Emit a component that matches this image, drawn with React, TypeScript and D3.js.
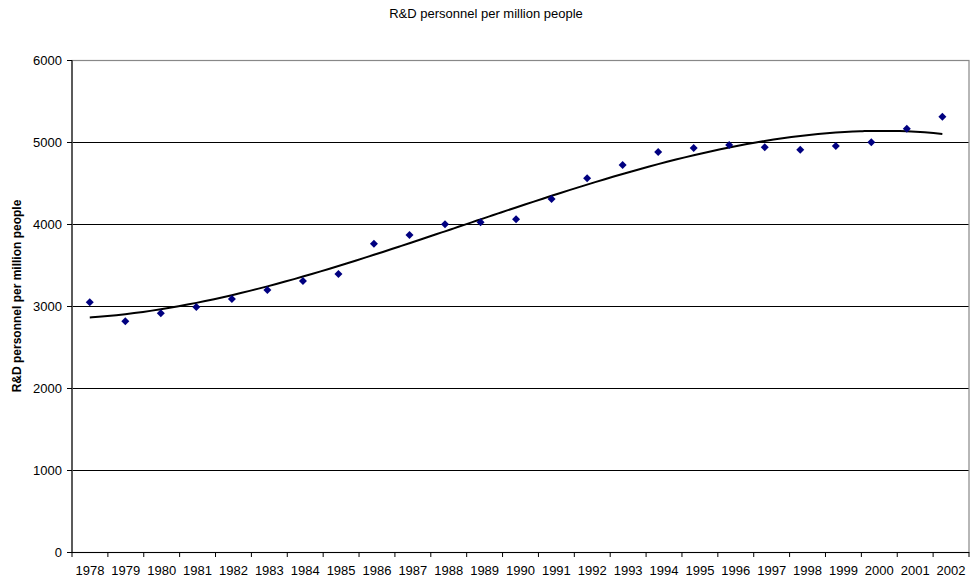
import * as d3 from "d3";
import React, { useRef, useEffect } from "react";

const width = 972;
const height = 586;
const margin = { top: 60, right: 3, bottom: 34, left: 72 };

// data
const years = [
  1978, 1979, 1980, 1981, 1982, 1983, 1984, 1985, 1986, 1987, 1988, 1989,
  1990, 1991, 1992, 1993, 1994, 1995, 1996, 1997, 1998, 1999, 2000, 2001, 2002,
];
const personnel = [
  3045, 2813, 2911, 2988, 3085, 3195, 3305, 3390, 3760, 3865, 3996, 4020,
  4057, 4305, 4557, 4720, 4878, 4927, 4963, 4935, 4906, 4951, 4996, 5162, 5308,
];
const yTicks = [0, 1000, 2000, 3000, 4000, 5000, 6000];

const title = "R&D personnel per million people";
const yLabel = "R&D personnel per million people";

// least squares polynomial (order 3) trendline, like the spreadsheet one
function polyFit(xs: number[], ys: number[], order: number) {
  const n = order + 1;
  const A: number[][] = [];
  for (let i = 0; i < n; i++) {
    A.push([]);
    for (let j = 0; j < n; j++) {
      A[i].push(d3.sum(xs, (x) => Math.pow(x, i + j)));
    }
    A[i].push(d3.sum(xs, (x, k) => Math.pow(x, i) * ys[k]));
  }
  for (let c = 0; c < n; c++) {
    let p = c;
    for (let r = c + 1; r < n; r++) if (Math.abs(A[r][c]) > Math.abs(A[p][c])) p = r;
    [A[c], A[p]] = [A[p], A[c]];
    for (let r = 0; r < n; r++) {
      if (r === c) continue;
      const f = A[r][c] / A[c][c];
      for (let k = c; k <= n; k++) A[r][k] -= f * A[c][k];
    }
  }
  const coef = A.map((row, i) => row[n] / row[i]);
  return (x: number) => coef.reduce((s, a, i) => s + a * Math.pow(x, i), 0);
}

export default function App() {
  const ref = useRef(null);

  useEffect(() => {
    const svg = d3.select(ref.current);
    svg.selectAll("*").remove();

    const x0 = margin.left;
    const x1 = width - margin.right;
    const y0 = height - margin.bottom;
    const y1 = margin.top;

    const scaleX = d3.scaleBand<number>().domain(years).range([x0, x1]).padding(0);
    // the xy layer sits a little tighter than the category bands
    const scaleXPoint = d3.scaleLinear().domain([1977.5, 2002.75]).range([x0, x1]);
    const scaleY = d3.scaleLinear().domain([0, 6000]).range([y0, y1]);

    const font = "'Liberation Sans', Arial, sans-serif";

    // title
    svg
      .append("text")
      .attr("x", width / 2)
      .attr("y", 18)
      .attr("text-anchor", "middle")
      .style("font-family", font)
      .style("font-size", "13px")
      .text(title);

    // gridlines
    svg
      .append("g")
      .selectAll("line")
      .data(yTicks.filter((d) => d > 0 && d < 6000))
      .join("line")
      .attr("x1", x0)
      .attr("x2", x1)
      .attr("y1", (d) => scaleY(d) + 0.5)
      .attr("y2", (d) => scaleY(d) + 0.5)
      .attr("stroke", "#000")
      .attr("stroke-width", 1);

    // plot border
    svg
      .append("rect")
      .attr("x", x0)
      .attr("y", y1 + 0.5)
      .attr("width", x1 - x0)
      .attr("height", y0 - y1)
      .attr("fill", "none")
      .attr("stroke", "#888")
      .attr("stroke-width", 1.2);

    // y axis
    const yAxis = svg.append("g");
    yAxis
      .append("line")
      .attr("x1", x0)
      .attr("x2", x0)
      .attr("y1", y1)
      .attr("y2", y0)
      .attr("stroke", "#444")
      .attr("stroke-width", 1.6);
    yAxis
      .selectAll("line.tick")
      .data(yTicks)
      .join("line")
      .attr("class", "tick")
      .attr("x1", x0 - 5)
      .attr("x2", x0)
      .attr("y1", (d) => scaleY(d) + 0.5)
      .attr("y2", (d) => scaleY(d) + 0.5)
      .attr("stroke", "#000");
    yAxis
      .selectAll("text")
      .data(yTicks)
      .join("text")
      .attr("x", x0 - 10)
      .attr("y", (d) => scaleY(d))
      .attr("dy", "0.36em")
      .attr("text-anchor", "end")
      .style("font-family", font)
      .style("font-size", "13px")
      .text((d) => d);

    // x axis
    const xAxis = svg.append("g");
    xAxis
      .append("line")
      .attr("x1", x0)
      .attr("x2", x1)
      .attr("y1", y0 + 0.5)
      .attr("y2", y0 + 0.5)
      .attr("stroke", "#000")
      .attr("stroke-width", 1.2);
    const bounds = years.map((d) => scaleX(d) as number).concat([x1]);
    xAxis
      .selectAll("line.tick")
      .data(bounds)
      .join("line")
      .attr("class", "tick")
      .attr("x1", (d) => d)
      .attr("x2", (d) => d)
      .attr("y1", y0)
      .attr("y2", y0 + 5)
      .attr("stroke", "#000");
    xAxis
      .selectAll("text")
      .data(years)
      .join("text")
      .attr("x", (d) => (scaleX(d) as number) + scaleX.bandwidth() / 2)
      .attr("y", y0 + 23)
      .attr("text-anchor", "middle")
      .style("font-family", font)
      .style("font-size", "13px")
      .text((d) => d);

    // y label
    svg
      .append("text")
      .attr("transform", `translate(21, ${(y0 + y1) / 2 - 10}) rotate(-90)`)
      .attr("text-anchor", "middle")
      .style("font-family", font)
      .style("font-size", "12px")
      .style("font-weight", "bold")
      .text(yLabel);

    // trendline
    const fit = polyFit(
      years.map((d) => d - 1990),
      personnel,
      3
    );
    const line = d3
      .line<number>()
      .x((d) => scaleXPoint(d))
      .y((d) => scaleY(fit(d - 1990)))
      .curve(d3.curveMonotoneX);
    const steps = d3.range(years[0], years[years.length - 1] + 0.001, 0.25);
    svg
      .append("path")
      .attr("d", line(steps))
      .attr("fill", "none")
      .attr("stroke", "#000")
      .attr("stroke-width", 2);

    // markers
    const diamond = d3.symbol().type(d3.symbolSquare).size(32);
    svg
      .append("g")
      .attr("fill", "#000080")
      .selectAll("path")
      .data(years)
      .join("path")
      .attr("d", diamond)
      .attr(
        "transform",
        (d, i) => `translate(${scaleXPoint(d)}, ${scaleY(personnel[i])}) rotate(45)`
      );
  }, []);

  return (
    <svg
      ref={ref}
      width={width}
      height={height}
      style={{ position: "absolute", left: 0, top: 0, background: "#fff" }}
    ></svg>
  );
}
